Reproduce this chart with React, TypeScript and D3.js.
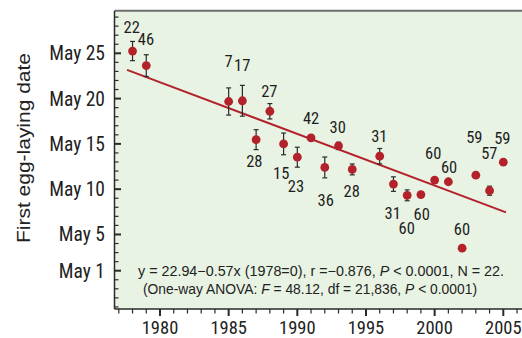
import React from "react";
import * as d3 from "d3";

const years = [1978, 1979, 1985, 1986, 1987, 1988, 1989, 1990, 1991, 1992, 1993, 1994, 1996, 1997, 1998, 1999, 2000, 2001, 2002, 2003, 2004, 2005];
const meanDay = [25.25, 23.64, 19.68, 19.76, 15.47, 18.6, 15.0, 13.53, 15.66, 12.4, 14.78, 12.18, 13.64, 10.56, 9.32, 9.4, 11.0, 10.82, 3.49, 11.55, 9.83, 12.98];
const errDay = [1.06, 1.2, 1.5, 1.7, 1.1, 0.85, 1.2, 1.1, 0.3, 1.15, 0.4, 0.6, 0.85, 0.8, 0.6, 0.0, 0.2, 0.0, 0.25, 0.3, 0.5, 0.0];
const sampleN = [22, 46, 7, 17, 28, 27, 15, 23, 42, 36, 30, 28, 31, 31, 60, 60, 60, 60, 60, 59, 57, 59];
const labelYear = [1977.94, 1978.98, 1985.0, 1985.99, 1986.87, 1987.96, 1988.83, 1989.9, 1991.0, 1992.07, 1992.94, 1993.96, 1995.97, 1996.95, 1997.97, 1999.06, 1999.9, 2001.05, 2001.99, 2002.89, 2003.98, 2004.93];
const labelDay = [27.93, 26.57, 24.15, 23.7, 13.11, 20.8, 11.82, 10.35, 17.82, 8.8, 16.89, 9.8, 15.87, 7.4, 5.68, 7.23, 13.96, 12.48, 5.57, 15.79, 14.02, 15.68];

const yTickDays = [1, 5, 10, 15, 20, 25];
const yTickLabels = ["May 1", "May 5", "May 10", "May 15", "May 20", "May 25"];
const xTickYears = [1980, 1985, 1990, 1995, 2000, 2005];

const regIntercept = 22.94;
const regSlope = -0.57;
const regBaseYear = 1978;
const regRange = [1977.6, 2005.2];

const eqLine1 = "y = 22.94\u22120.57x (1978=0), r =\u22120.876, ";
const eqLine2a = "(One-way ANOVA: ";

export default function App() {
  const W = 522, H = 338;
  const left = 114.5, right = 522, top = 10.7, bottom = 309;
  const x = d3.scaleLinear().domain([1980, 2005]).range([160, 503.3]);
  const y = d3.scaleLinear().domain([1, 25]).range([270.7, 53.3]);

  const yMin = y.invert(bottom), yMax = y.invert(top);
  const minorDays = d3.range(Math.ceil(yMin), Math.floor(yMax) + 1);
  const xMin = x.invert(left), xMax = x.invert(right);
  const minorYears = d3.range(Math.ceil(xMin), Math.floor(xMax) + 1);

  const reg = d3.line<number>()
    .x((d) => x(d))
    .y((d) => y(regIntercept + regSlope * (d - regBaseYear)));

  const red = "#b3222b";
  const narrow = "'Liberation Sans Narrow', 'Arial Narrow', 'Roboto Condensed', sans-serif";
  const sans = "'Liberation Sans', Arial, Helvetica, sans-serif";

  return (
    <svg width={W} height={H} style={{ position: "absolute", left: 0, top: 0, background: "#fff" }}>
      <rect x={left} y={top} width={right - left} height={bottom - top} fill="#e8f3e4" />
      <line x1={left} x2={right} y1={top} y2={top} stroke="#6e6e6e" strokeWidth={2} />
      <line x1={left} x2={left} y1={top} y2={bottom} stroke="#2a2a2a" strokeWidth={1.5} />
      <line x1={left} x2={right} y1={bottom} y2={bottom} stroke="#2a2a2a" strokeWidth={1.5} />

      {minorDays.map((d) => {
        const major = yTickDays.includes(d);
        return (
          <line key={"yt" + d} x1={left} x2={left + (major ? 6.5 : 4)} y1={y(d)} y2={y(d)}
            stroke="#2a2a2a" strokeWidth={major ? 2 : 1.2} />
        );
      })}
      {yTickDays.map((d, i) => (
        <text key={"yl" + d} x={105} y={y(d)} dy="0.36em" textAnchor="end"
          fontFamily={narrow} fontSize={19.5} fill="#222">{yTickLabels[i]}</text>
      ))}

      {minorYears.map((yr) => {
        const major = xTickYears.includes(yr);
        return (
          <line key={"xt" + yr} x1={x(yr)} x2={x(yr)} y1={bottom} y2={bottom + (major ? 7 : 4.5)}
            stroke="#2a2a2a" strokeWidth={major ? 2 : 1.2} />
        );
      })}
      {xTickYears.map((yr) => (
        <text key={"xl" + yr} x={x(yr)} y={334} textAnchor="middle"
          fontFamily={narrow} fontSize={18.5} fill="#222">{yr}</text>
      ))}

      <text transform={`translate(30,148) rotate(-90)`} textAnchor="middle"
        fontFamily={sans} fontSize={19} fill="#222" textLength={190} lengthAdjust="spacingAndGlyphs">First egg-laying date</text>

      <path d={reg(regRange) || ""} fill="none" stroke={red} strokeWidth={2} />

      {years.map((yr, i) => (
        <g key={"p" + yr}>
          {errDay[i] > 0 && (
            <g stroke="#2a2a2a" strokeWidth={1.2}>
              <line x1={x(yr)} x2={x(yr)} y1={y(meanDay[i] + errDay[i])} y2={y(meanDay[i] - errDay[i])} />
              <line x1={x(yr) - 2.5} x2={x(yr) + 2.5} y1={y(meanDay[i] + errDay[i])} y2={y(meanDay[i] + errDay[i])} />
              <line x1={x(yr) - 2.5} x2={x(yr) + 2.5} y1={y(meanDay[i] - errDay[i])} y2={y(meanDay[i] - errDay[i])} />
            </g>
          )}
          <circle cx={x(yr)} cy={y(meanDay[i])} r={4.4} fill={red} />
          <text x={x(labelYear[i])} y={y(labelDay[i])} dy="0.36em" textAnchor="middle"
            fontFamily={narrow} fontSize={16.5} fill="#1e1e1e">{sampleN[i]}</text>
        </g>
      ))}

      <text x={138} y={276} fontFamily={sans} fontSize={14} fill="#222" textLength={366} lengthAdjust="spacingAndGlyphs">
        {eqLine1}<tspan fontStyle="italic">P</tspan>{" < 0.0001, N = 22."}
      </text>
      <text x={143} y={294} fontFamily={sans} fontSize={14} fill="#222" textLength={334} lengthAdjust="spacingAndGlyphs">
        {eqLine2a}<tspan fontStyle="italic">F</tspan>{" = 48.12, df = 21,836, "}<tspan fontStyle="italic">P</tspan>{" < 0.0001)"}
      </text>
    </svg>
  );
}
